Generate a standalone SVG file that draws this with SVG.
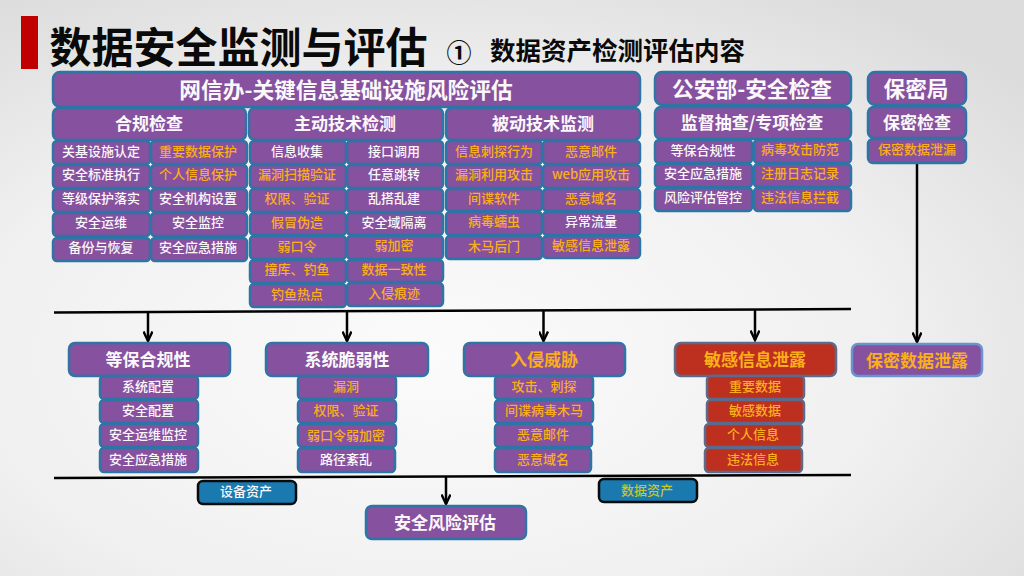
<svg xmlns="http://www.w3.org/2000/svg" width="1024" height="576" viewBox="0 0 1024 576">
<defs>
<radialGradient id="bg" cx="42%" cy="62%" r="75%"><stop offset="0" stop-color="#fbfbfb"/><stop offset=".6" stop-color="#f0f0f0"/><stop offset="1" stop-color="#dcdcdc"/></radialGradient>
<marker id="arr" viewBox="0 0 12 10" markerWidth="12" markerHeight="10" refX="10.5" refY="5" orient="auto" markerUnits="userSpaceOnUse"><path d="M1 0.5L10.5 5L1 9.5" fill="none" stroke="#000" stroke-width="2.4"/></marker>
</defs>
<style>
text{font-family:"Noto Sans CJK SC","Microsoft YaHei",sans-serif;text-anchor:middle;dominant-baseline:central;transform:translateY(-1.2px)}
.b rect{fill:#86519e;stroke:#2e75a6;stroke-width:2.5}
.r rect{fill:#bd3020;stroke:#5c6a8c;stroke-width:2.5}
.d rect{fill:#1a7ab0;stroke:#0a0a0a;stroke-width:2.5}
.k rect{stroke:#6a94cf}
.w{fill:#fbf8fb}.o{fill:#fbae1c}.y{fill:#c9c42a}
.c{font-size:13px;font-weight:500}
.h{font-size:17px;font-weight:700}
.m{font-size:17px;font-weight:700}
.t{font-size:21.700px;font-weight:700}
.l{stroke:#000;stroke-width:2.5;fill:none}
.a{stroke:#000;stroke-width:2.5;fill:none;marker-end:url(#arr)}
</style>
<rect width="1024" height="576" fill="url(#bg)"/>
<rect x="21" y="16" width="17" height="53" fill="#c00000"/>
<text x="238.500" y="46" style="font-size:42px;font-weight:700" fill="#0a0a0a">数据安全监测与评估</text>
<text x="459" y="52" style="font-size:25px;font-weight:700" fill="#0a0a0a">①</text>
<text x="617.500" y="50" style="font-size:25.500px;font-weight:700" fill="#0a0a0a">数据资产检测评估内容</text>

<g id="connectors">
<path class="l" d="M54 312.500L851 309"/>
<path class="a" d="M148 312V341"/>
<path class="a" d="M347 311V341"/>
<path class="a" d="M543.500 310V341"/>
<path class="a" d="M755 309V340"/>
<path class="a" d="M917 163V342"/>
<path class="l" d="M54 478L851 475"/>
<path class="a" d="M446 476V504"/>
</g>

<g id="n-wxb" class="b"><rect x="53" y="72" width="587" height="35" rx="7"/><text class="t" x="346" y="90" fill="#fbf8fb">网信办-关键信息基础设施风险评估</text></g>
<g id="n-gab" class="b"><rect x="655" y="72" width="196" height="33" rx="7"/><text class="t" x="752" y="89" fill="#fbf8fb">公安部-安全检查</text></g>
<g id="n-bmj" class="b"><rect x="868" y="72" width="98" height="33" rx="7"/><text class="t" x="916" y="89" fill="#fbf8fb">保密局</text></g>

<g id="n-hg" class="b"><rect x="53" y="108" width="193" height="32" rx="6"/><text class="h" x="149" y="124" fill="#fbf8fb">合规检查</text></g>
<g id="n-zd" class="b"><rect x="249" y="108" width="194" height="32" rx="6"/><text class="h" x="345" y="124" fill="#fbf8fb">主动技术检测</text></g>
<g id="n-bd" class="b"><rect x="446" y="108" width="194" height="32" rx="6"/><text class="h" x="543" y="124" fill="#fbf8fb">被动技术监测</text></g>
<g id="n-jd" class="b"><rect x="655" y="107" width="196" height="32" rx="6"/><text class="h" x="752" y="123" fill="#fbf8fb">监督抽查/专项检查</text></g>
<g id="n-bmjc" class="b"><rect x="868" y="107" width="98" height="31" rx="6"/><text class="h" x="917" y="122.500" fill="#fbf8fb">保密检查</text></g>
<g id="n-bmxl" class="b"><rect x="868" y="139" width="98" height="24" rx="5"/><text class="c o" x="917" y="150">保密数据泄漏</text></g>

<g id="c1-1" class="b"><rect x="53" y="141" width="97" height="23" rx="4"/><text class="c w" x="101" y="152">关基设施认定</text></g>
<g id="c1-2" class="b"><rect x="151" y="141" width="96" height="23" rx="4"/><text class="c o" x="198" y="152">重要数据保护</text></g>
<g id="c1-3" class="b"><rect x="53" y="165" width="97" height="23" rx="4"/><text class="c w" x="101" y="175">安全标准执行</text></g>
<g id="c1-4" class="b"><rect x="151" y="165" width="96" height="23" rx="4"/><text class="c o" x="198" y="175">个人信息保护</text></g>
<g id="c1-5" class="b"><rect x="53" y="189" width="97" height="23" rx="4"/><text class="c w" x="101" y="199">等级保护落实</text></g>
<g id="c1-6" class="b"><rect x="151" y="189" width="96" height="23" rx="4"/><text class="c w" x="198" y="199">安全机构设置</text></g>
<g id="c1-7" class="b"><rect x="53" y="213" width="97" height="23" rx="4"/><text class="c w" x="101" y="223">安全运维</text></g>
<g id="c1-8" class="b"><rect x="151" y="213" width="96" height="23" rx="4"/><text class="c w" x="198" y="223">安全监控</text></g>
<g id="c1-9" class="b"><rect x="53" y="238" width="97" height="23" rx="4"/><text class="c w" x="101" y="248">备份与恢复</text></g>
<g id="c1-10" class="b"><rect x="151" y="238" width="96" height="23" rx="4"/><text class="c w" x="198" y="248">安全应急措施</text></g>

<g id="c2-1" class="b"><rect x="250" y="141" width="96" height="23" rx="4"/><text class="c w" x="297" y="152">信息收集</text></g>
<g id="c2-2" class="b"><rect x="347" y="141" width="96" height="23" rx="4"/><text class="c w" x="394" y="152">接口调用</text></g>
<g id="c2-3" class="b"><rect x="250" y="165" width="96" height="23" rx="4"/><text class="c o" x="297" y="175">漏洞扫描验证</text></g>
<g id="c2-4" class="b"><rect x="347" y="165" width="96" height="23" rx="4"/><text class="c w" x="394" y="175">任意跳转</text></g>
<g id="c2-5" class="b"><rect x="250" y="189" width="96" height="23" rx="4"/><text class="c o" x="297" y="199">权限、验证</text></g>
<g id="c2-6" class="b"><rect x="347" y="189" width="96" height="23" rx="4"/><text class="c w" x="394" y="199">乱搭乱建</text></g>
<g id="c2-7" class="b"><rect x="250" y="213" width="96" height="22" rx="4"/><text class="c o" x="297" y="223">假冒伪造</text></g>
<g id="c2-8" class="b"><rect x="347" y="213" width="96" height="22" rx="4"/><text class="c w" x="394" y="223">安全域隔离</text></g>
<g id="c2-9" class="b"><rect x="250" y="236" width="96" height="23" rx="4"/><text class="c o" x="297" y="247">弱口令</text></g>
<g id="c2-10" class="b"><rect x="347" y="236" width="96" height="23" rx="4"/><text class="c o" x="394" y="246">弱加密</text></g>
<g id="c2-11" class="b"><rect x="250" y="260" width="96" height="23" rx="4"/><text class="c o" x="297" y="270">撞库、钓鱼</text></g>
<g id="c2-12" class="b"><rect x="347" y="260" width="96" height="22" rx="4"/><text class="c o" x="394" y="270">数据一致性</text></g>
<g id="c2-13" class="b"><rect x="250" y="284" width="96" height="23" rx="4"/><text class="c o" x="297" y="295">钓鱼热点</text></g>
<g id="c2-14" class="b"><rect x="347" y="283" width="96" height="23" rx="4"/><text class="c o" x="394" y="294">入侵痕迹</text></g>

<g id="c3-1" class="b"><rect x="446" y="141" width="96" height="23" rx="4"/><text class="c o" x="494" y="152">信息刺探行为</text></g>
<g id="c3-2" class="b"><rect x="543" y="141" width="97" height="23" rx="4"/><text class="c o" x="591" y="152">恶意邮件</text></g>
<g id="c3-3" class="b"><rect x="446" y="165" width="96" height="23" rx="4"/><text class="c o" x="494" y="175">漏洞利用攻击</text></g>
<g id="c3-4" class="b"><rect x="543" y="165" width="97" height="23" rx="4"/><text class="c o" x="591" y="175">web应用攻击</text></g>
<g id="c3-5" class="b"><rect x="446" y="189" width="96" height="22" rx="4"/><text class="c o" x="494" y="199">间谍软件</text></g>
<g id="c3-6" class="b"><rect x="543" y="189" width="97" height="22" rx="4"/><text class="c o" x="591" y="199">恶意域名</text></g>
<g id="c3-7" class="b"><rect x="446" y="212" width="96" height="23" rx="4"/><text class="c o" x="494" y="222">病毒蠕虫</text></g>
<g id="c3-8" class="b"><rect x="543" y="212" width="97" height="23" rx="4"/><text class="c w" x="591" y="222">异常流量</text></g>
<g id="c3-9" class="b"><rect x="446" y="236" width="96" height="23" rx="4"/><text class="c o" x="494" y="247">木马后门</text></g>
<g id="c3-10" class="b"><rect x="543" y="236" width="97" height="22" rx="4"/><text class="c o" x="591" y="246">敏感信息泄露</text></g>

<g id="c4-1" class="b"><rect x="655" y="140" width="97" height="23" rx="4"/><text class="c w" x="703" y="151">等保合规性</text></g>
<g id="c4-2" class="b"><rect x="754" y="140" width="97" height="23" rx="4"/><text class="c o" x="800" y="150">病毒攻击防范</text></g>
<g id="c4-3" class="b"><rect x="655" y="164" width="97" height="23" rx="4"/><text class="c w" x="703" y="174">安全应急措施</text></g>
<g id="c4-4" class="b"><rect x="754" y="164" width="97" height="23" rx="4"/><text class="c o" x="800" y="174">注册日志记录</text></g>
<g id="c4-5" class="b"><rect x="655" y="188" width="97" height="23" rx="4"/><text class="c w" x="703" y="198">风险评估管控</text></g>
<g id="c4-6" class="b"><rect x="754" y="188" width="97" height="23" rx="4"/><text class="c o" x="800" y="198">违法信息拦截</text></g>

<g id="m1" class="b"><rect x="69" y="343" width="161" height="33" rx="6"/><text class="m w" x="148" y="360">等保合规性</text></g>
<g id="m2" class="b"><rect x="266" y="343" width="162" height="33" rx="6"/><text class="m w" x="347" y="360">系统脆弱性</text></g>
<g id="m3" class="b"><rect x="464" y="343" width="161" height="33" rx="6"/><text class="m o" x="544" y="360">入侵威胁</text></g>
<g id="m4" class="r"><rect x="675" y="343" width="161" height="33" rx="6"/><text class="m o" x="755" y="360">敏感信息泄露</text></g>
<g id="m5" class="b k"><rect x="852" y="344" width="130" height="32" rx="6"/><text class="m o" x="917" y="361">保密数据泄露</text></g>

<g id="s1-1" class="b"><rect x="100" y="376" width="98" height="23" rx="4"/><text class="c w" x="148" y="387">系统配置</text></g>
<g id="s1-2" class="b"><rect x="100" y="400" width="98" height="23" rx="4"/><text class="c w" x="148" y="411">安全配置</text></g>
<g id="s1-3" class="b"><rect x="100" y="424" width="98" height="23" rx="4"/><text class="c w" x="148" y="435">安全运维监控</text></g>
<g id="s1-4" class="b"><rect x="100" y="448" width="98" height="24" rx="4"/><text class="c w" x="148" y="460">安全应急措施</text></g>

<g id="s2-1" class="b"><rect x="298" y="376" width="98" height="23" rx="4"/><text class="c o" x="346" y="387">漏洞</text></g>
<g id="s2-2" class="b"><rect x="298" y="400" width="98" height="23" rx="4"/><text class="c o" x="346" y="411">权限、验证</text></g>
<g id="s2-3" class="b"><rect x="298" y="424" width="98" height="23" rx="4"/><text class="c o" x="346" y="436">弱口令弱加密</text></g>
<g id="s2-4" class="b"><rect x="298" y="448" width="97" height="24" rx="4"/><text class="c w" x="346" y="460">路径紊乱</text></g>

<g id="s3-1" class="b"><rect x="495" y="376" width="98" height="23" rx="4"/><text class="c o" x="544" y="387">攻击、刺探</text></g>
<g id="s3-2" class="b"><rect x="495" y="400" width="98" height="23" rx="4"/><text class="c o" x="544" y="411">间谍病毒木马</text></g>
<g id="s3-3" class="b"><rect x="495" y="424" width="97" height="23" rx="4"/><text class="c o" x="543" y="435">恶意邮件</text></g>
<g id="s3-4" class="b"><rect x="495" y="448" width="96" height="24" rx="4"/><text class="c o" x="543" y="460">恶意域名</text></g>

<g id="s4-1" class="r"><rect x="707" y="376" width="97" height="23" rx="4"/><text class="c o" x="755" y="387">重要数据</text></g>
<g id="s4-2" class="r"><rect x="707" y="400" width="97" height="23" rx="4"/><text class="c o" x="755" y="411">敏感数据</text></g>
<g id="s4-3" class="r"><rect x="705" y="424" width="97" height="23" rx="4"/><text class="c o" x="753" y="435">个人信息</text></g>
<g id="s4-4" class="r"><rect x="705" y="448" width="97" height="24" rx="4"/><text class="c o" x="753" y="460">违法信息</text></g>

<g id="n-sb" class="d"><rect x="198" y="481" width="98" height="23" rx="5"/><text class="c w" x="246" y="492">设备资产</text></g>
<g id="n-sj" class="d"><rect x="599" y="479" width="98" height="23" rx="5"/><text class="c y" x="647" y="491">数据资产</text></g>
<g id="n-fx" class="b"><rect x="366" y="506" width="160" height="33" rx="6"/><text class="m w" x="445" y="523">安全风险评估</text></g>
</svg>
